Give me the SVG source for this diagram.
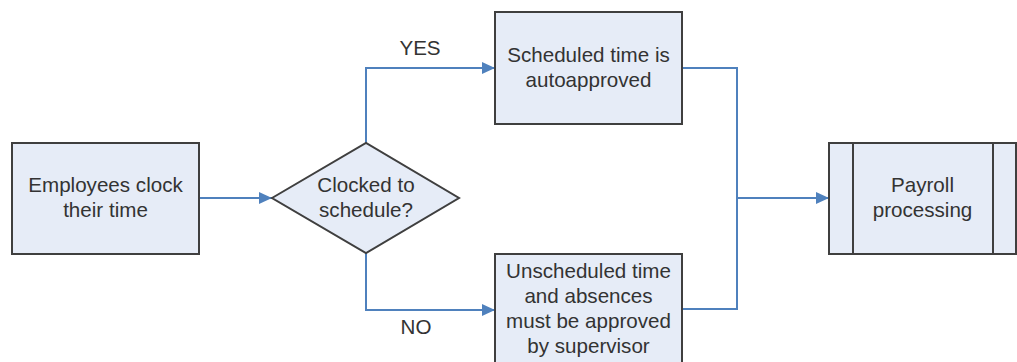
<svg xmlns="http://www.w3.org/2000/svg" width="1017" height="362" viewBox="0 0 1017 362">
<style>
.node{fill:#e6ecf7;stroke:#3f3f3f;stroke-width:2}
.t{font-family:"Liberation Sans",Arial,sans-serif;font-size:20.6px;fill:#333;text-anchor:middle}
.c{fill:none;stroke:#4f81bd;stroke-width:2}
</style>
<defs>
<marker id="ah" markerUnits="userSpaceOnUse" markerWidth="14" markerHeight="14" viewBox="0 0 14 14" refX="13" refY="7" orient="auto">
<path d="M0,1 L13,7 L0,13 Z" fill="#4f81bd"/>
</marker>
</defs>
<g id="connectors">
<path class="c" d="M199,198 H272" marker-end="url(#ah)"/>
<path class="c" d="M366,143 V68 H495" marker-end="url(#ah)"/>
<path class="c" d="M366,253 V310 H495" marker-end="url(#ah)"/>
<path class="c" d="M682,68 H737 V309 H682"/>
<path class="c" d="M737,198 H829" marker-end="url(#ah)"/>
<text class="t" x="420" y="55">YES</text>
<text class="t" x="416" y="334">NO</text>
</g>
<g id="n1">
<rect class="node" x="12" y="143" width="187" height="111"/>
<text class="t" x="105.5" y="192">Employees clock</text>
<text class="t" x="105.5" y="217">their time</text>
</g>
<g id="n2">
<path class="node" d="M272,198 L366,143 L459,198 L366,253 Z"/>
<text class="t" x="366" y="192">Clocked to</text>
<text class="t" x="366" y="217">schedule?</text>
</g>
<g id="n3">
<rect class="node" x="495" y="12" width="187" height="112"/>
<text class="t" x="588.5" y="62">Scheduled time is</text>
<text class="t" x="588.5" y="87">autoapproved</text>
</g>
<g id="n4">
<rect class="node" x="495" y="254" width="187" height="112"/>
<text class="t" x="588.5" y="278">Unscheduled time</text>
<text class="t" x="588.5" y="303">and absences</text>
<text class="t" x="588.5" y="328">must be approved</text>
<text class="t" x="588.5" y="353">by supervisor</text>
</g>
<g id="n5">
<rect class="node" x="829" y="143" width="187" height="111"/>
<line x1="853" y1="143" x2="853" y2="254" stroke="#3f3f3f" stroke-width="2"/>
<line x1="993" y1="143" x2="993" y2="254" stroke="#3f3f3f" stroke-width="2"/>
<text class="t" x="922.5" y="192">Payroll</text>
<text class="t" x="922.5" y="217">processing</text>
</g>
</svg>
